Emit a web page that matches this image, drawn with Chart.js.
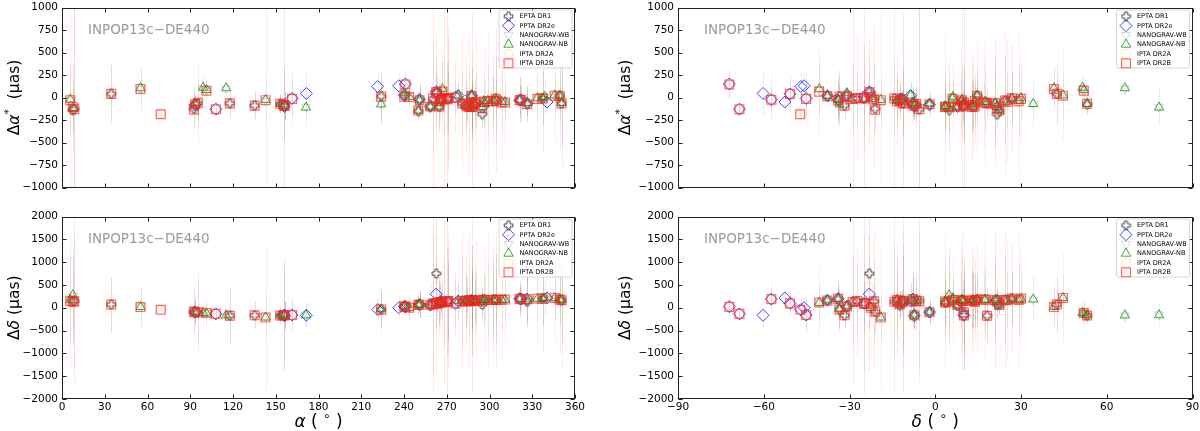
<!DOCTYPE html>
<html><head><meta charset="utf-8">
<script src="https://cdn.jsdelivr.net/npm/chart.js@4.4.0/dist/chart.umd.min.js"></script>
<style>
body{margin:0;background:#fff;width:1200px;height:431px;overflow:hidden;position:relative}
.p{position:absolute}
</style></head><body>
<div class="p" style="left:0;top:0"><canvas id="tl" width="600" height="195"></canvas></div>
<div class="p" style="left:0;top:209px"><canvas id="bl" width="600" height="222"></canvas></div>
<div class="p" style="left:612px;top:0"><canvas id="tr" width="588" height="195"></canvas></div>
<div class="p" style="left:612px;top:209px"><canvas id="br" width="588" height="222"></canvas></div>
<script>
// pulsar positions (deg)
var psrName = ['J0023+0923','J0030+0451','J0034-0534','J0218+4232','J0340+4130','J0437-4715','J0610-2100','J0613-0200','J0621+1002','J0636+5128','J0645+5158','J0711-6830','J0740+6620','J0751+1807','J0900-3144','J0931-1902','J1012+5307','J1022+1001','J1024-0719','J1045-4509','J1125-6014','J1125+7819','J1446-4701','J1455-3330','J1545-4550','J1600-3053','J1603-7202','J1614-2230','J1640+2224','J1643-1224','J1713+0747','J1721-2457','J1730-2304','J1732-5049','J1738+0333','J1741+1351','J1744-1134','J1747-4036','J1751-2857','J1801-1417','J1802-2124','J1804-2717','J1824-2452A','J1832-0836','J1843-1113','J1853+1303','B1855+09','J1903+0327','J1909-3744','J1910+1256','J1911-1114','J1911+1347','J1918-0642','J1923+2515','B1937+21','J1944+0907','J1946+3417','B1953+29','J2010-1323','J2017+0603','J2019+2425','J2033+1734','J2043+1711','J2124-3358','J2129-5721','J2145-0750','J2214+3000','J2229+2643','J2234+0611','J2241-5236','J2302+4442','J2317+1439','J2322+2057'];
var psrRA = [5.82,7.61,8.59,34.53,55.10,69.32,92.56,93.43,95.30,99.02,101.40,107.98,115.19,117.79,135.23,142.84,153.14,155.74,156.16,161.46,171.48,171.25,221.52,223.95,236.32,240.22,240.97,243.65,250.07,250.91,258.46,260.36,262.59,263.20,264.69,265.38,266.12,266.94,267.82,270.43,270.54,271.06,276.13,278.06,280.92,283.44,284.40,285.78,287.45,287.55,287.96,287.99,289.70,290.77,294.91,296.02,296.60,298.87,302.71,304.34,304.87,308.44,310.84,321.18,322.26,326.46,333.66,337.31,338.61,340.36,345.70,349.29,350.55];
var psrDec = [9.39,4.86,-5.58,42.54,41.51,-47.25,-21.01,-2.01,10.04,51.48,51.98,-68.51,66.34,18.13,-31.74,-19.05,53.12,10.03,-7.32,-45.17,-60.24,78.32,-47.02,-33.51,-45.84,-30.90,-72.04,-22.51,22.41,-12.41,7.79,-24.95,-23.08,-50.82,3.55,13.86,-11.58,-40.61,-28.95,-14.29,-21.41,-27.29,-24.87,-8.61,-11.23,13.06,9.72,3.46,-37.74,12.94,-11.24,13.80,-6.70,25.26,21.58,9.12,34.29,29.14,-13.38,6.06,24.42,17.58,17.19,-33.98,-57.36,-7.84,30.01,26.73,6.19,-52.61,44.71,14.66,20.95];

// EPTA DR1
var eptaNames = ['J0030+0451','J0034-0534','J0218+4232','J0610-2100','J0613-0200','J0621+1002','J0751+1807','J0900-3144','J1012+5307','J1022+1001','J1024-0719','J1455-3330','J1600-3053','J1640+2224','J1643-1224','J1713+0747','J1721-2457','J1730-2304','J1738+0333','J1744-1134','J1751-2857','J1801-1417','J1802-2124','J1804-2717','J1843-1113','J1853+1303','B1855+09','J1909-3744','J1910+1256','J1911-1114','J1911+1347','J1918-0642','B1937+21','J2010-1323','J2019+2425','J2124-3358','J2145-0750','J2229+2643','J2317+1439','J2322+2057'];
var eptaDA = [-140,-130,40,-125,-75,-65,-65,-90,-75,-80,-95,15,20,-150,-25,-100,-15,60,-105,-20,-15,-10,-20,-10,-65,-80,-100,15,-105,-60,-95,-75,-185,-40,-30,-30,-70,-10,20,-65];
var eptaDD = [145,150,70,-90,-95,-100,-175,-165,-170,-170,-150,-35,30,65,70,60,90,750,110,120,130,130,140,145,140,155,150,165,160,150,160,150,70,170,170,195,130,200,180,165];
var eptaErrA = [250,1200,350,200,80,250,150,150,120,400,150,250,60,100,150,40,600,400,250,100,400,400,400,300,350,300,150,40,300,400,250,200,150,300,500,200,200,300,300,500];
var eptaErrD = [600,1500,600,400,200,700,600,300,150,1200,300,400,100,200,300,60,1500,1200,500,300,1000,1200,900,800,1000,600,300,60,700,1200,600,500,300,900,1000,300,600,600,600,1000];

// PPTA DR2e
var pptaNames = ['J0613-0200','J0711-6830','J1022+1001','J1024-0719','J1045-4509','J1125-6014','J1446-4701','J1545-4550','J1600-3053','J1603-7202','J1643-1224','J1713+0747','J1730-2304','J1732-5049','J1744-1134','J1824-2452A','J1832-0836','J1909-3744','B1937+21','J2124-3358','J2129-5721','J2145-0750','J2241-5236'];
var pptaDA = [-80,-130,-80,-100,-10,45,122,130,25,150,-20,-100,65,40,-15,5,20,20,-110,-30,-25,-65,-50];
var pptaDD = [-95,-135,-165,-175,-160,-165,-40,0,30,25,70,60,300,95,125,95,150,165,165,200,190,190,215];
var pptaErrA = [150,60,1100,150,200,250,150,150,50,150,150,30,250,150,60,200,150,20,100,150,150,150,100];
var pptaErrD = [300,80,1000,300,350,300,250,250,80,150,300,60,800,200,200,500,400,30,250,250,200,500,150];

// NANOGrav (both WB and NB)
var ngNames = ['J0023+0923','J0030+0451','J0340+4130','J0613-0200','J0636+5128','J0645+5158','J0740+6620','J0931-1902','J1012+5307','J1024-0719','J1125+7819','J1455-3330','J1600-3053','J1614-2230','J1640+2224','J1643-1224','J1713+0747','J1738+0333','J1741+1351','J1744-1134','J1747-4036','J1832-0836','J1853+1303','B1855+09','J1903+0327','J1909-3744','J1910+1256','J1918-0642','J1923+2515','B1937+21','J1944+0907','J1946+3417','B1953+29','J2010-1323','J2017+0603','J2033+1734','J2043+1711','J2124-3358','J2145-0750','J2214+3000','J2229+2643','J2234+0611','J2302+4442','J2317+1439','J2322+2057'];
var ngErrA = [400,300,200,100,150,100,100,250,100,150,200,250,60,100,80,150,30,200,150,80,300,150,250,100,400,20,250,150,300,60,300,250,400,250,200,350,200,250,150,250,300,200,250,200,400];
var ngErrD = [1000,1000,400,250,250,200,150,500,150,300,250,400,100,250,200,300,60,500,400,200,400,400,600,250,800,40,600,400,600,150,600,500,800,700,500,700,500,400,500,500,600,400,500,500,800];
// NANOGRAV-WB
var wbDA = [-30,-110,100,-70,105,80,100,-35,-75,-85,-105,-70,45,15,-140,-25,-100,-95,-45,-20,90,30,-80,-90,-100,25,-95,-70,-50,-100,-45,-65,-40,-30,-15,-50,-45,-20,-65,0,-15,5,20,25,-55];
var wbDD = [170,260,30,-95,-105,-115,-170,-200,-160,-165,-150,-40,40,10,55,75,60,110,125,125,105,145,150,155,140,160,165,145,160,170,165,180,175,165,170,180,175,190,185,195,205,205,210,190,175];
// NANOGRAV-NB
var nbDA = [-20,-115,105,-65,110,85,105,-25,-70,-90,-110,-75,50,10,-145,-30,-105,-100,-40,-25,95,25,-75,-95,-95,20,-100,-75,-45,-105,-40,-70,-35,-35,-10,-45,-50,-25,-60,-5,-10,10,25,20,-60];
var nbDD = [180,280,20,-100,-110,-120,-165,-210,-165,-170,-160,-30,35,0,60,70,55,115,130,120,110,150,155,150,145,165,160,150,165,165,170,185,170,170,175,175,180,195,190,200,200,210,215,185,170];

// IPTA DR2A
var iaNames = ['J0030+0451','J0034-0534','J0218+4232','J0437-4715','J0610-2100','J0613-0200','J0621+1002','J0711-6830','J0751+1807','J0900-3144','J1012+5307','J1022+1001','J1024-0719','J1045-4509','J1455-3330','J1600-3053','J1603-7202','J1640+2224','J1643-1224','J1713+0747','J1721-2457','J1730-2304','J1732-5049','J1738+0333','J1744-1134','J1751-2857','J1801-1417','J1802-2124','J1804-2717','J1824-2452A','J1843-1113','J1853+1303','B1855+09','J1909-3744','J1910+1256','J1911-1114','J1911+1347','J1918-0642','B1937+21','J2010-1323','J2019+2425','J2124-3358','J2129-5721','J2145-0750','J2229+2643','J2317+1439','J2322+2057'];
var iaDA = [-120,-125,35,-180,-130,-70,-55,-125,-70,-85,-70,-75,-100,-20,5,15,140,-140,-25,-95,-20,55,45,-95,-15,-10,-15,-15,-5,5,-60,-80,-95,15,-100,-55,-95,-70,-110,-35,-30,-25,-20,-70,-5,15,-60];
var iaDD = [140,145,65,-40,-90,-95,-95,-130,-170,-160,-165,-165,-160,-155,-35,25,30,65,65,55,100,470,90,105,115,120,125,135,140,100,135,150,145,160,155,145,155,145,160,165,165,190,185,185,195,175,160];
var iaErrA = [500,1200,300,60,250,100,450,80,150,150,100,400,150,300,300,60,150,100,200,40,1200,600,200,300,100,1000,1000,800,700,400,700,500,200,30,600,1000,400,300,200,500,800,250,250,200,600,600,700];
var iaErrD = [1000,1800,600,100,500,250,900,100,600,300,200,1200,300,350,500,100,200,200,300,60,2000,1500,300,700,250,1800,2000,1500,1200,700,1500,1000,500,50,1200,2000,900,700,400,1200,1500,400,300,600,1200,1200,1500];

// IPTA DR2B
var ibNames = ['J0023+0923','J0030+0451','J0034-0534','J0218+4232','J0340+4130','J0437-4715','J0610-2100','J0613-0200','J0621+1002','J0645+5158','J0711-6830','J0751+1807','J0900-3144','J0931-1902','J1012+5307','J1022+1001','J1024-0719','J1045-4509','J1455-3330','J1600-3053','J1603-7202','J1614-2230','J1640+2224','J1643-1224','J1713+0747','J1721-2457','J1730-2304','J1732-5049','J1738+0333','J1741+1351','J1744-1134','J1747-4036','J1751-2857','J1801-1417','J1802-2124','J1804-2717','J1824-2452A','J1843-1113','J1853+1303','B1855+09','J1903+0327','J1909-3744','J1910+1256','J1911-1114','J1911+1347','J1918-0642','J1923+2515','B1937+21','J1944+0907','B1953+29','J2010-1323','J2017+0603','J2019+2425','J2033+1734','J2043+1711','J2124-3358','J2129-5721','J2145-0750','J2214+3000','J2229+2643','J2302+4442','J2317+1439','J2322+2057'];
var ibDA = [-30,-105,-130,40,95,-186,-135,-75,-60,75,-130,-65,-90,-30,-70,-85,-95,-15,10,10,145,5,-145,-30,-100,-10,60,40,-100,-40,-20,65,-15,-10,-20,-5,0,-65,-85,-100,-105,15,-105,-60,-100,-70,-50,-115,-45,-40,-40,-15,-35,-55,-55,-30,-25,-75,-15,-10,20,15,-65];
var ibDD = [150,130,140,70,15,-45,-85,-100,-100,-115,-135,-175,-165,-215,-170,-170,-165,-160,-40,30,20,0,60,70,60,95,90,95,110,125,120,115,125,130,140,145,95,140,155,150,140,160,160,150,160,150,165,165,170,170,170,175,170,175,180,195,190,190,200,200,215,180,165];
var ibErrA = [1200,500,1200,300,250,60,250,100,450,150,80,150,150,1200,100,400,150,300,300,60,150,150,100,200,40,1200,600,200,300,250,100,500,1000,1000,800,700,400,700,500,200,800,30,600,1000,400,300,700,200,600,800,500,400,800,700,500,250,250,200,500,600,500,600,700];
var ibErrD = [1500,1000,1800,600,500,100,500,250,900,300,100,600,300,1600,200,1200,300,350,500,100,200,300,200,300,60,2000,1500,300,700,600,250,800,1800,2000,1500,1200,700,1500,1000,500,1500,50,1200,2000,900,700,1300,400,1200,1500,1200,900,1500,1400,900,400,300,600,1000,1200,1000,1200,1500];

var raTicks = [0,30,60,90,120,150,180,210,240,270,300,330,360];
var decTicks = [-90,-60,-30,0,30,60,90];
var daTicks = [-1000,-750,-500,-250,0,250,500,750,1000];
var ddTicks = [-2000,-1500,-1000,-500,0,500,1000,1500,2000];

var FONT = "'DejaVu Sans', sans-serif";

// EPTA marker: outlined plus
function plusMarker() {
  var c = document.createElement('canvas');
  c.width = 11; c.height = 11;
  var g = c.getContext('2d');
  var m = 5.5, a = 1.5, b = 4.3;
  var pts = [[-a,-b],[a,-b],[a,-a],[b,-a],[b,a],[a,a],[a,b],[-a,b],[-a,a],[-b,a],[-b,-a],[-a,-a]];
  g.beginPath();
  pts.forEach(function (p, i) { if (i) g.lineTo(m + p[0], m + p[1]); else g.moveTo(m + p[0], m + p[1]); });
  g.closePath();
  g.fillStyle = 'rgba(255,255,255,0.85)'; g.fill();
  g.strokeStyle = 'rgba(50,50,50,0.9)'; g.lineWidth = 1; g.stroke();
  return c;
}
var plusImg = plusMarker();

var series = [
  {label: 'EPTA DR1', names: eptaNames, dA: eptaDA, dD: eptaDD, eA: eptaErrA, eD: eptaErrD,
   style: plusImg, r: 5, color: '#444', fill: 'rgba(0,0,0,0)', bw: 1, rot: 0, err: 'rgba(0,0,0,0.07)', order: 5},
  {label: 'PPTA DR2e', names: pptaNames, dA: pptaDA, dD: pptaDD, eA: pptaErrA, eD: pptaErrD,
   style: 'rectRot', r: 6, color: 'rgba(20,20,255,0.8)', fill: 'rgba(0,0,0,0)', bw: 1, rot: 0, err: 'rgba(0,0,255,0.08)', order: 4},
  {label: 'NANOGRAV-WB', names: ngNames, dA: wbDA, dD: wbDD, eA: ngErrA, eD: ngErrD,
   style: 'triangle', r: 5.2, color: 'rgba(150,150,150,0.35)', fill: 'rgba(0,0,0,0)', bw: 1, rot: 180, err: 'rgba(0,0,0,0.03)', order: 3},
  {label: 'NANOGRAV-NB', names: ngNames, dA: nbDA, dD: nbDD, eA: ngErrA, eD: ngErrD,
   style: 'triangle', r: 5.4, color: 'rgba(0,140,0,0.75)', fill: 'rgba(0,0,0,0)', bw: 1, rot: 0, err: 'rgba(0,128,0,0.06)', order: 2},
  {label: 'IPTA DR2A', names: iaNames, dA: iaDA, dD: iaDD, eA: iaErrA, eD: iaErrD,
   style: 'circle', r: 4.5, color: 'rgba(255,160,60,0.3)', fill: 'rgba(0,0,0,0)', bw: 1, rot: 0, err: 'rgba(255,150,0,0.05)', order: 1},
  {label: 'IPTA DR2B', names: ibNames, dA: ibDA, dD: ibDD, eA: ibErrA, eD: ibErrD,
   style: 'rect', r: 6.3, color: 'rgba(255,30,30,0.65)', fill: 'rgba(255,0,0,0.04)', bw: 1.2, rot: 0, err: 'rgba(255,0,0,0.07)', order: 0}
];

function coord(name, key) {
  var i = psrName.indexOf(name);
  return key === 'ra' ? psrRA[i] : psrDec[i];
}

function fmt(v) { return v < 0 ? '\u2212' + (-v) : '' + v; }

function drawMarker(ctx, s, x, y) {
  ctx.save();
  ctx.strokeStyle = s.color; ctx.fillStyle = s.fill; ctx.lineWidth = s.bw;
  if (typeof s.style !== 'string') {
    ctx.drawImage(s.style, x - s.style.width / 2, y - s.style.height / 2);
  } else {
    var r = s.r;
    ctx.beginPath();
    if (s.style === 'rect') { var h = r * Math.SQRT1_2; ctx.rect(x - h, y - h, 2 * h, 2 * h); }
    else if (s.style === 'rectRot') { ctx.moveTo(x - r, y); ctx.lineTo(x, y - r); ctx.lineTo(x + r, y); ctx.lineTo(x, y + r); ctx.closePath(); }
    else if (s.style === 'triangle') {
      var d = s.rot === 180 ? -1 : 1;
      ctx.moveTo(x, y - d * r); ctx.lineTo(x + r * 0.866, y + d * r * 0.5); ctx.lineTo(x - r * 0.866, y + d * r * 0.5); ctx.closePath();
    } else { ctx.arc(x, y, r, 0, Math.PI * 2); }
    ctx.fill(); ctx.stroke();
  }
  ctx.restore();
}

// mixed-style text: parts = [[text, 'n'|'i'|'s']]
function drawRich(ctx, parts, size) {
  function font(p) {
    if (p[1] === 'i') return 'italic ' + size + 'px ' + FONT;
    if (p[1] === 's') return (size * 0.7) + 'px ' + FONT;
    return size + 'px ' + FONT;
  }
  var widths = [], total = 0;
  parts.forEach(function (p) { ctx.font = font(p); var w = ctx.measureText(p[0]).width; widths.push(w); total += w; });
  var cx = -total / 2;
  ctx.textAlign = 'left'; ctx.textBaseline = 'middle';
  parts.forEach(function (p, i) {
    ctx.font = font(p);
    ctx.fillText(p[0], cx, p[1] === 's' ? -size * 0.38 : 0);
    cx += widths[i];
  });
}

var decor = {
  id: 'decor',
  beforeDatasetsDraw: function (chart) {
    var ctx = chart.ctx, a = chart.chartArea, xs = chart.scales.x, ys = chart.scales.y;
    ctx.save();
    ctx.beginPath(); ctx.rect(a.left, a.top, a.right - a.left, a.bottom - a.top); ctx.clip();
    ctx.lineWidth = 1;
    chart.data.datasets.slice().reverse().forEach(function (ds) {
      ctx.strokeStyle = ds.errColor;
      ds.data.forEach(function (p) {
        var px = Math.round(xs.getPixelForValue(p.x)) + 0.5;
        ctx.beginPath();
        ctx.moveTo(px, ys.getPixelForValue(p.y - p.e));
        ctx.lineTo(px, ys.getPixelForValue(p.y + p.e));
        ctx.stroke();
      });
    });
    ctx.restore();
  },
  afterDraw: function (chart, args, o) {
    var ctx = chart.ctx, a = chart.chartArea, xs = chart.scales.x, ys = chart.scales.y;
    ctx.save();
    // frame + inward ticks on all sides
    ctx.strokeStyle = '#222'; ctx.lineWidth = 1;
    var L = Math.round(a.left) + 0.5, R = Math.round(a.right) - 0.5, T = Math.round(a.top) + 0.5, B = Math.round(a.bottom) - 0.5;
    ctx.strokeRect(L, T, R - L, B - T);
    ctx.beginPath();
    o.xTicks.forEach(function (v) {
      var px = Math.round(xs.getPixelForValue(v)) + 0.5;
      ctx.moveTo(px, B); ctx.lineTo(px, B - 4);
      ctx.moveTo(px, T); ctx.lineTo(px, T + 4);
    });
    o.yTicks.forEach(function (v) {
      var py = Math.round(ys.getPixelForValue(v)) + 0.5;
      ctx.moveTo(L, py); ctx.lineTo(L + 4, py);
      ctx.moveTo(R, py); ctx.lineTo(R - 4, py);
    });
    ctx.stroke();

    // model label
    ctx.fillStyle = '#9a9a9a';
    ctx.font = '13.5px ' + FONT;
    ctx.textAlign = 'left'; ctx.textBaseline = 'middle';
    ctx.fillText('INPOP13c\u2212DE440', a.left + 26, a.top + 23);

    // y title
    ctx.fillStyle = '#000';
    ctx.save();
    ctx.translate(o.yTitleX, (a.top + a.bottom) / 2);
    ctx.rotate(-Math.PI / 2);
    drawRich(ctx, o.yTitle, 15.5);
    ctx.restore();

    // x title
    if (o.xTitle) {
      ctx.save();
      ctx.translate((a.left + a.right) / 2, o.xTitleY);
      drawRich(ctx, o.xTitle, 17);
      ctx.restore();
    }

    // legend box
    var bx = a.right - 76, by = a.top + 2.5, bw = 73, bh = 58;
    ctx.fillStyle = 'rgba(255,255,255,0.85)';
    ctx.strokeStyle = '#cccccc'; ctx.lineWidth = 0.8;
    ctx.beginPath();
    if (ctx.roundRect) ctx.roundRect(bx, by, bw, bh, 2); else ctx.rect(bx, by, bw, bh);
    ctx.fill(); ctx.stroke();
    series.forEach(function (s, i) {
      var ly = a.top + 8.8 + i * 9.4;
      drawMarker(ctx, s, bx + 9.5, ly);
      ctx.fillStyle = '#000';
      ctx.font = '6.5px ' + FONT;
      ctx.textAlign = 'left'; ctx.textBaseline = 'middle';
      ctx.fillText(s.label, bx + 20.5, ly + 0.3);
    });
    ctx.restore();
  }
};

function makePanel(id, xKey, yKey, xTicks, yTicks, showX, yW, padR, xH, yTitle, yTitleX, xTitle, xTitleY) {
  var errKey = yKey === 'dA' ? 'eA' : 'eD';
  var datasets = series.map(function (s) {
    return {
      label: s.label,
      data: s.names.map(function (n, i) { return {x: coord(n, xKey), y: s[yKey][i], e: s[errKey][i]}; }),
      pointStyle: s.style,
      pointRadius: s.r,
      pointRotation: s.rot,
      pointBorderColor: s.color,
      pointBackgroundColor: s.fill,
      pointBorderWidth: s.bw,
      showLine: false,
      order: s.order,
      errColor: s.err
    };
  });
  new Chart(document.getElementById(id), {
    type: 'scatter',
    data: {datasets: datasets},
    options: {
      responsive: false, animation: false, devicePixelRatio: 1,
      layout: {padding: {top: 4, right: padR, bottom: 0, left: 0}},
      plugins: {
        legend: {display: false}, tooltip: {enabled: false},
        decor: {xTicks: xTicks, yTicks: yTicks, yTitle: yTitle, yTitleX: yTitleX, xTitle: xTitle, xTitleY: xTitleY}
      },
      scales: {
        x: {
          type: 'linear', min: xTicks[0], max: xTicks[xTicks.length - 1],
          afterBuildTicks: function (s) { s.ticks = xTicks.map(function (v) { return {value: v}; }); },
          ticks: {display: showX, autoSkip: false, maxRotation: 0, padding: 2, color: '#000',
                  font: {family: FONT, size: 10.5}, callback: fmt},
          grid: {display: false, drawTicks: false, tickLength: 0}, border: {display: false},
          afterFit: function (s) { s.height = xH; s.paddingLeft = 0; s.paddingRight = 0; }
        },
        y: {
          type: 'linear', min: yTicks[0], max: yTicks[yTicks.length - 1],
          afterBuildTicks: function (s) { s.ticks = yTicks.map(function (v) { return {value: v}; }); },
          ticks: {autoSkip: false, padding: 4, color: '#000', font: {family: FONT, size: 10.5}, callback: fmt},
          grid: {display: false, drawTicks: false, tickLength: 0}, border: {display: false},
          afterFit: function (s) { s.width = yW; s.paddingTop = 0; s.paddingBottom = 0; }
        }
      }
    },
    plugins: [decor]
  });
}

var titleDA = [['\u0394', 'n'], ['\u03b1', 'i'], ['*', 's'], ['  (\u03bcas)', 'n']];
var titleDD = [['\u0394', 'n'], ['\u03b4', 'i'], [' (\u03bcas)', 'n']];
var titleRA = [['\u03b1', 'i'], [' ( ', 'n'], ['\u2218', 's'], [' )', 'n']];
var titleDec = [['\u03b4', 'i'], [' ( ', 'n'], ['\u2218', 's'], [' )', 'n']];

makePanel('tl', 'ra', 'dA', raTicks, daTicks, false, 62, 25, 5, titleDA, 15, null, 0);
makePanel('bl', 'ra', 'dD', raTicks, ddTicks, true, 62, 25, 32, titleDD, 15, titleRA, 214);
makePanel('tr', 'dec', 'dA', decTicks, daTicks, false, 66, 7, 5, titleDA, 14, null, 0);
makePanel('br', 'dec', 'dD', decTicks, ddTicks, true, 66, 7, 32, titleDD, 14, titleDec, 214);
</script>
</body></html>
